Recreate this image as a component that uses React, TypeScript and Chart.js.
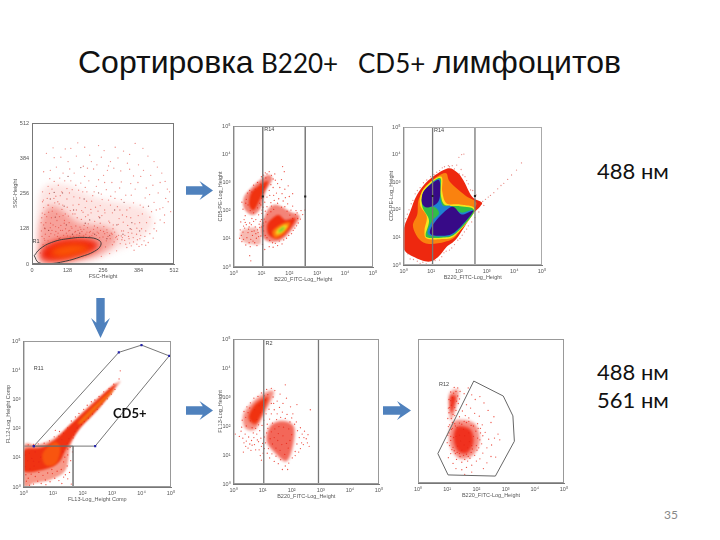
import React, { useEffect, useRef } from "react";
import { Chart, registerables } from "chart.js";

Chart.register(...registerables);

type P = [number, number];

const linearTicks = [0, 128, 256, 384, 512];
const decadeExponents = [0, 1, 2, 3, 4, 5];

// ---- Panel 1: FSC / SSC (linear channels)
const scatterSparse: P[] = [
  [52,402],[88,352],[120,418],[165,440],[208,395],[240,430],[283,372],[330,410],[372,438],[418,392],[452,352],[480,300],
  [64,310],[95,286],[130,372],[152,330],[185,355],[222,345],[258,322],[295,348],[322,298],[352,344],[392,318],[436,286],
  [38,262],[55,238],[72,272],[102,248],[118,302],[145,270],[176,294],[198,262],[232,282],[268,270],[300,262],[338,250],
  [372,272],[408,240],[440,224],[472,205],[500,190],[42,205],[60,188],[82,222],[108,198],[126,236],[148,214],[172,240],
  [192,205],[215,228],[246,212],[276,232],[308,208],[342,196],[366,222],[398,182],[425,170],[462,160],[35,168],[50,150],
  [70,168],[90,158],[112,176],[134,150],[155,182],[178,162],[202,178],[226,155],[252,176],[280,150],[314,165],[345,140],
  [378,130],[410,120],[440,128],[34,120],[48,108],[66,132],[86,118],[104,140],[124,112],[144,130],[166,122],[188,140],
  [210,118],[236,132],[262,110],[292,128],[322,102],[350,92],[380,88],[404,84],[60,60],[30,40],[265,62],[290,70],[318,74],
  [342,60],[368,50],[305,48],[280,38],[250,28],[76,422],[104,388],[136,345],[160,392],[190,318],[214,372],[250,388],
  [272,340],[310,385],[344,366],[384,360],[402,340],[428,322],[468,330],[496,262],[482,238],[58,282],[80,300],[112,330],
  [42,335],[140,302],[168,268],[205,302],[240,306],[262,296],[288,296],[316,276],[356,292],[382,296],[412,276],[455,258],
  [74,205],[98,218],[120,182],[138,194],[160,196],[184,188],[212,198],[238,192],[262,196],[290,186],[326,178],[356,168],
  [388,150],[76,142],[96,132],[116,148],[136,122],[158,138],[180,118],[200,132],[222,126],[246,148],[270,124],[298,116],
  [330,120],[360,112],[392,104],[68,110],[92,100],[114,104],[138,98],[162,106],[186,102],[208,100],[232,104],[256,98],
  [282,92],[308,90],[334,86],[44,92],[58,84],[40,70],[52,62],[268,84],[296,80],[324,88],[352,76],[378,72],
];
const scatterExtra: P[] = [
  [33,150],[37,185],[41,232],[47,128],[53,172],[57,214],[63,256],[67,148],[73,192],[79,238],[85,136],[89,182],[93,226],[99,172],[103,122],[107,262],
  [111,214],[117,158],[121,128],[127,206],[131,174],[135,258],[141,136],[147,182],[151,244],[157,118],[163,168],[169,216],[173,134],[179,194],[183,262],[187,126],
  [193,172],[197,228],[203,146],[207,114],[213,186],[219,248],[225,138],[229,206],[235,116],[241,172],[247,122],[253,234],[259,136],[263,186],[271,114],[277,156],
  [283,214],[289,108],[293,142],[299,238],[305,100],[311,144],[317,196],[323,120],[329,152],[335,104],[341,172],[347,114],[353,204],[359,126],[365,96],[371,146],
  [377,108],[383,176],[389,92],[395,128],[401,206],[407,100],[413,150],[419,78],[425,110],[431,190],[437,94],[443,148],[449,120],[461,200],[477,150],[491,226],
  [36,100],[42,142],[46,86],[62,100],[72,122],[82,106],[94,112],[102,96],[110,122],[128,102],[132,120],[150,100],[154,116],[170,104],[176,126],[194,108],[198,116],
  [216,104],[220,112],[240,112],[244,96],[258,118],[274,100],[286,112],[302,96],[312,104],[326,96],[338,72],[348,100],[358,66],[366,80],[386,64],[396,70],[410,68],
  [140,420],[190,424],[260,412],[300,424],[352,398],[400,420],[440,372],[462,296],[488,272],[200,348],[234,360],[276,356],[320,338],[366,320],[80,386],[66,340],[100,312],
  [126,274],[158,286],[192,278],[224,262],[250,254],[284,246],[322,234],[358,250],[390,214],[424,252],[448,196],[478,178],[86,246],[60,214],[46,180],[38,226],
];
const scatterDark: P[] = [
  [66,236],[110,258],[150,196],[192,148],[244,168],[306,142],[354,128],[124,142],[84,170],[172,112],[226,108],[280,104],
  [98,92],[146,108],[60,122],[208,160],[298,196],[130,318],[240,258],[332,224],[420,210],[176,350],[116,210],[80,260],
  [328,108],[270,92],[46,130],[388,120],[360,150],[188,236],
];
const haze1: P[] = [[24,0],[28,250],[110,290],[235,240],[395,205],[435,150],[390,92],[305,50],[220,15],[100,0]];
const haze2: P[] = [[28,16],[28,135],[58,205],[102,200],[170,150],[262,135],[305,104],[285,62],[222,25],[120,4],[50,2]];
const core1: P[] = [[32,22],[38,54],[70,78],[122,92],[192,92],[238,76],[230,54],[182,33],[122,16],[68,10]];
const core2: P[] = [[66,36],[88,60],[140,72],[194,66],[204,50],[152,34],[108,26]];
const gateR1: P[] = [[8,30],[28,54],[70,78],[130,92],[200,96],[242,86],[248,68],[225,46],[175,26],[120,10],[60,1],[24,5],[8,30]];

// ---- Panel 2: B220 / CD5 all events (decade exponents)
const upper2Outer: P[] = [[1.27,3.27],[1.39,3.09],[1.15,2.67],[.97,2.08],[.68,1.84],[.38,2.08],[.38,2.49],[.68,2.85],[1.03,3.15]];
const upper2Inner: P[] = [[1.15,3.03],[1.23,2.97],[.97,2.44],[.73,2.02],[.56,2.2],[.62,2.61],[.85,2.85]];
const lower2Outer: P[] = [[1.56,2.2],[2.04,1.96],[2.37,1.78],[2.04,1.25],[1.62,.91],[1.15,.95],[.97,1.31],[1.09,1.72],[1.27,2.08]];
const lower2Red: P[] = [[1.62,1.84],[1.86,1.66],[2.22,1.72],[1.98,1.31],[1.62,1.01],[1.27,1.13],[1.21,1.49],[1.39,1.72]];
const lower2Orange: P[] = [[1.86,1.58],[2.04,1.54],[1.82,1.19],[1.5,1.03],[1.39,1.25],[1.56,1.43]];
const lower2Yellow: P[] = [[1.82,1.49],[1.94,1.45],[1.74,1.22],[1.53,1.15],[1.56,1.31]];
const lower2Green: P[] = [[1.74,1.40],[1.85,1.39],[1.71,1.25],[1.6,1.25]];
const left2Haze: P[] = [[.32,1.31],[.85,1.37],[.97,.83],[.5,.83],[.26,1.01]];
const dots2: P[] = [
  [.3,2.3],[.34,2.05],[.42,1.82],[.5,2.62],[.58,2.72],[.66,1.72],[.72,2.9],[.8,1.68],[.86,3.0],[.9,1.85],[.96,1.62],[1.0,3.2],
  [1.08,3.26],[1.14,3.34],[1.2,3.3],[1.28,3.38],[1.36,3.25],[1.42,3.12],[1.34,2.92],[1.28,2.72],[1.2,2.48],[1.12,2.3],[1.06,2.12],[1.02,1.9],
  [.24,1.32],[.28,1.12],[.3,.9],[.36,1.45],[.42,1.58],[.44,.78],[.52,1.22],[.6,.72],[.64,1.5],[.7,.92],[.78,1.42],[.84,.76],[.92,1.52],[.98,1.1],[1.04,.8],[1.08,1.46],
  [.58,.4],[.62,.22],[1.12,.62],[1.28,.72],[1.42,.7],[1.58,.76],[1.74,.82],[1.9,1.02],[2.08,1.18],[2.2,1.38],[2.32,1.56],[2.48,1.86],[2.56,2.02],[2.42,2.0],
  [2.24,2.0],[2.12,2.16],[1.94,2.24],[1.78,2.34],[1.62,2.42],[1.46,2.36],[1.34,2.28],[1.2,2.14],[1.54,2.62],[1.66,2.82],[1.74,2.6],[1.58,2.96],[1.72,3.1],[1.84,2.76],
  [1.42,2.82],[1.5,3.08],[1.82,3.38],[1.76,3.56],[1.86,2.46],[2.0,2.5],[1.48,3.3],[1.96,2.88],[2.12,2.6],[1.3,2.54],[1.44,2.54],
  [1.14,1.98],[1.22,1.86],[1.08,1.28],[1.14,1.12],[2.12,1.72],[2.22,1.86],[2.3,1.72],[2.02,1.84],[1.92,1.98],[1.34,1.96],[1.44,2.04],[1.72,2.12],
  [.46,2.4],[.52,2.2],[.44,2.26],[.6,2.0],[.72,1.92],[.86,2.1],[.94,2.26],[1.0,2.44],[1.06,2.64],[1.1,2.84],[.78,2.76],[.66,2.66],[.96,2.94],[1.16,3.16],
  [.38,1.68],[.48,1.04],[.56,1.42],[.68,1.12],[.74,1.28],[.88,1.22],[.82,1.02],[.62,.98],[1.02,1.42],[1.0,1.68],[1.06,1.56],[1.02,2.02],[.98,2.2],
  [.26,1.6],[.34,1.24],[.4,1.38],[.46,1.5],[.54,1.34],[.58,1.56],[.66,1.26],[.72,1.62],[.8,1.18],[.86,1.32],[.9,1.08],[.94,1.4],[.76,.86],[.56,.86],[.36,.98],[.22,1.02],
  [1.1,1.7],[1.16,1.6],[1.2,1.04],[1.3,.94],[1.4,.86],[1.5,.84],[1.64,.92],[1.8,.96],[1.98,1.12],[2.14,1.3],[2.26,1.46],[2.4,1.7],[2.28,1.92],[2.06,2.02],[1.84,2.14],[1.58,2.26],[1.36,2.16],
];

// ---- Panel 3: same gate, dense contour view
const contourRed: P[] = [[0,1.27],[.24,1.93],[.48,2.53],[.9,3.07],[1.56,3.49],[1.92,3.37],[2.16,3.07],[2.48,2.47],[2.82,2.27],[2.76,2.11],[2.48,1.81],[1.92,.96],[1.56,.66],[1.26,.3],[.9,.12],[.36,.3],[0,.6]];
const contourOrange: P[] = [[.34,1.42],[.5,1.85],[.56,2.41],[.94,2.98],[1.5,3.33],[1.68,3.01],[2.22,2.53],[2.62,2.27],[2.48,1.92],[1.92,1.08],[1.5,.84],[.92,.76],[.56,.94]];
const contourYellow: P[] = [[.76,1.27],[.84,1.75],[.6,2.17],[.66,2.65],[1.02,3.04],[1.38,3.19],[1.4,2.65],[1.56,2.23],[2.04,2.19],[2.58,1.99],[1.88,1.08],[1.38,.94],[.84,.96]];
const contourGreen: P[] = [[.8,1.11],[.92,1.63],[.68,2.11],[.71,2.59],[1.02,2.98],[1.34,3.13],[1.34,2.59],[1.5,2.17],[2.04,2.13],[2.55,1.95],[1.86,1.12],[1.38,.99],[.9,.99]];
const contourCyan: P[] = [[.88,1.12],[1.04,1.6],[1.28,1.86],[1.12,2.1],[.72,2.14],[.7,2.58],[1.02,2.96],[1.31,3.1],[1.31,2.56],[1.42,2.16],[1.7,2.14],[2.08,1.9],[2.5,1.95],[1.86,1.16],[1.38,1.03]];
const navyUpper: P[] = [[1.29,3.07],[1.32,2.53],[1.2,2.23],[.84,2.08],[.66,2.27],[.72,2.65],[1.02,2.95]];
const navyLower: P[] = [[.96,1.14],[1.14,1.57],[1.74,2.11],[2.1,1.83],[2.52,1.95],[1.86,1.2],[1.38,1.06]];
const dots3: P[] = [
  [2.86,2.3],[2.96,2.38],[3.06,2.46],[3.14,2.52],[3.26,2.62],[3.4,2.76],[3.52,2.88],[3.62,2.96],[3.76,3.1],[3.9,3.26],[4.26,3.7],[4.08,3.44],
  [2.0,3.9],[2.1,4.0],[2.18,4.02],[1.76,3.6],[1.92,3.62],[2.08,3.46],[2.22,3.2],[2.34,2.94],[2.5,2.7],[2.62,2.54],[1.66,3.56],[1.48,3.56],[1.3,3.42],[1.1,3.28],
  [.84,3.08],[.6,2.8],[.42,2.58],[.28,2.22],[.14,1.84],[.06,1.52],[1.04,.06],[.7,.1],[.5,.14],[.24,.22],[1.3,.18],[1.46,.44],[1.66,.54],[1.84,.74],[2.04,.96],[2.2,1.2],
  [2.34,1.42],[2.58,1.72],[2.72,1.92],[2.9,2.16],[.72,2.98],[.5,2.7],[.34,2.34],[.2,2.0],[.08,1.68],[.98,3.2],[1.2,3.36],[1.4,3.52],[1.62,3.6],[1.84,3.48],[2.02,3.3],[2.14,3.26],
  [2.28,3.06],[2.42,2.72],[.16,.4],[.36,.2],[.6,.06],[.82,.04],[1.14,.16],[1.38,.3],[1.54,.5],[1.74,.62],[1.96,.9],[2.12,1.08],[2.28,1.3],[2.46,1.56],
];

// ---- Panel 4: FL13 / FL12 diagonal
const diag4Outer: P[] = [[0,1.4],[.47,1.44],[1.04,1.67],[1.66,2.18],[2.27,2.81],[3.18,3.57],[3.2,3.49],[2.61,2.81],[1.94,2.07],[1.6,1.44],[1.43,.59],[.92,.25],[.36,.14],[0,.08]];
const diag4Red: P[] = [[0,1.25],[.6,1.35],[1.05,1.6],[1.6,2.15],[2.25,2.75],[3.15,3.55],[2.6,2.75],[1.9,2.0],[1.45,1.3],[1.2,.85],[.7,.6],[0,.55]];
const diag4Streak: P[] = [[1.85,2.2],[2.3,2.68],[2.95,3.28],[3.0,3.24],[2.4,2.6],[2.0,2.2]];
const diag4Core: P[] = [[.65,1.15],[1.05,1.55],[1.25,1.3],[1.1,.8],[.75,.75]];
const dots4: P[] = [
  [.1,.2],[.2,.06],[.34,.1],[.48,.2],[.6,.12],[.74,.24],[.9,.18],[1.06,.3],[1.2,.22],[1.36,.34],[1.5,.28],[1.62,.1],[1.56,.5],[1.48,.72],[1.6,.9],[1.5,1.1],[1.66,1.2],[1.58,1.36],
  [.08,.42],[.16,.3],[.26,.44],[.4,.36],[.52,.5],[.66,.4],[.82,.48],[.98,.46],[1.14,.54],[1.28,.6],[1.36,.86],[1.4,1.02],[1.34,1.2],[1.5,1.3],[1.48,1.5],[1.68,1.68],
  [1.54,1.66],[1.3,1.62],[1.2,1.74],[1.04,1.72],[.88,1.58],[.7,1.5],[.5,1.48],[.34,1.46],[.16,1.44],[1.36,1.84],[1.22,1.9],[1.5,2.02],[1.62,2.26],[1.76,2.4],[1.88,2.52],[2.04,2.66],
  [2.16,2.8],[2.3,2.92],[2.42,2.98],[2.56,3.1],[2.72,3.26],[2.9,3.38],[3.06,3.52],[3.24,3.7],[3.28,3.98],[2.06,2.24],[2.2,2.36],[2.34,2.5],[2.5,2.66],[2.66,2.84],[2.84,3.02],[2.98,3.18],[3.1,3.34],
  [.06,.7],[.22,.62],[.36,.72],[.14,.9],[.28,.98],[.06,1.1],[.2,1.16],[.4,1.2],[.52,.86],[.58,1.02],[.34,.88],[1.74,1.9],[1.82,2.02],[1.7,1.78],[1.96,2.14],[1.08,1.94],[.96,.6],[1.42,.42],[1.3,.12],[.76,.08],
];

// ---- Panel 5: gated on FL13 x B220
const upper5Outer: P[] = [[1.37,3.21],[1.31,2.92],[1.03,2.4],[.74,1.88],[.4,1.94],[.34,2.4],[.69,2.86],[1.08,3.15]];
const upper5Inner: P[] = [[1.2,2.98],[.97,2.4],[.74,2.06],[.51,2.29],[.69,2.69],[.97,2.92]];
const lower5Outer: P[] = [[1.26,2.0],[1.66,2.17],[2.06,2.0],[2.06,1.42],[1.83,.79],[1.43,1.07],[1.14,1.48]];
const dots5: P[] = [
  [.3,2.2],[.36,2.5],[.28,1.96],[.4,1.72],[.52,1.62],[.62,1.5],[.46,2.66],[.58,2.8],[.7,2.96],[.84,3.02],[.96,3.14],[1.14,3.26],[1.3,3.3],[1.42,3.22],[1.36,3.0],[1.3,2.78],[1.22,2.58],[1.12,2.42],
  [1.04,2.2],[.98,2.02],[.9,1.84],[.8,1.72],[.68,1.76],[.2,1.64],[.36,1.42],[.5,1.24],[.64,1.34],[.76,1.18],[.86,1.46],[.96,1.3],[1.02,1.06],[.92,.98],[.34,1.1],[.06,1.72],
  [1.18,1.92],[1.34,2.1],[1.48,2.22],[1.62,2.3],[1.78,2.26],[1.94,2.14],[2.1,2.06],[2.2,1.84],[2.26,1.6],[2.18,1.38],[2.3,1.22],[2.12,1.12],[2.02,.9],[1.9,.72],[1.78,.62],[1.62,.84],[1.46,.96],[1.32,1.04],[1.2,1.22],[1.1,1.42],
  [1.06,1.62],[1.14,1.76],[2.42,1.6],[2.56,1.7],[2.54,1.42],[2.4,1.36],[1.4,2.56],[1.58,2.64],[1.5,2.86],[1.7,2.78],[1.82,2.96],[1.96,2.66],[1.78,3.42],[2.18,2.74],[2.64,2.56],[1.38,2.78],[2.04,2.42],[1.6,3.1],
  [1.3,1.8],[1.42,1.9],[1.56,1.98],[1.72,1.96],[1.9,1.9],[2.0,1.7],[1.94,1.5],[1.88,1.24],[1.76,1.02],[1.6,1.16],[1.46,1.24],[1.34,1.38],[1.26,1.56],[1.4,1.6],[1.54,1.74],[1.7,1.66],[1.82,1.4],[1.66,1.36],[1.52,1.5],
  [.44,2.0],[.5,2.46],[.58,2.18],[.64,1.94],[.72,2.56],[.8,2.22],[.88,2.7],[.92,2.46],[1.0,2.72],[1.1,2.9],[1.18,3.08],[1.06,3.04],[.86,2.04],[.76,1.92],[.56,2.62],[.42,2.3],
  [.26,1.82],[.32,1.58],[.44,1.48],[.56,1.38],[.7,1.6],[.82,1.52],[.94,1.58],[1.0,1.4],[.88,1.18],[.72,1.36],[.6,1.16],[.42,1.3],[.96,.82],[1.06,1.22],[1.16,1.06],[1.24,.9],[1.4,.78],[1.54,.7],[1.68,.5],[1.86,.5],
  [2.12,.98],[2.24,1.1],[2.34,1.42],[2.36,1.72],[2.3,1.94],[2.16,2.14],[2.44,1.82],[2.5,1.56],[2.6,1.3],[1.16,2.06],[1.24,2.24],[1.3,2.42],[1.5,2.42],[1.68,2.48],[1.84,2.4],[2.0,2.28],
];

// ---- Panel 6: R12 gate
const strip6: P[] = [[1.08,3.11],[1.39,3.22],[1.31,2.65],[1.14,2.18],[1.08,2.4]];
const strip6Inner: P[] = [[1.1,3.0],[1.3,3.0],[1.24,2.68],[1.13,2.42]];
const lower6Outer: P[] = [[1.31,2.18],[1.94,2.06],[2.11,1.48],[1.88,.96],[1.43,.85],[1.11,1.25],[1.08,1.83]];
const lower6Inner: P[] = [[1.4,1.98],[1.8,1.86],[1.9,1.42],[1.7,1.05],[1.4,1.08],[1.24,1.4],[1.24,1.76]];
const dots6: P[] = [
  [1.24,3.32],[1.36,3.3],[1.44,3.18],[1.42,2.92],[1.38,2.76],[1.3,2.52],[1.26,2.34],[1.18,2.1],[1.06,2.9],[1.04,2.6],[1.02,2.24],[1.08,2.02],
  [1.58,3.1],[1.72,3.3],[1.84,3.06],[1.96,2.9],[2.12,3.0],[2.26,2.78],[1.66,2.72],[1.8,2.6],[1.52,2.5],[1.94,2.42],[2.1,2.32],[1.62,2.34],[1.74,2.26],[1.42,2.3],
  [2.2,2.02],[2.3,1.76],[2.42,1.52],[2.52,1.32],[2.62,1.56],[2.36,1.22],[2.22,1.04],[2.12,.84],[2.0,.76],[1.84,.62],[1.66,.54],[1.5,.46],[1.3,.5],[1.2,.68],[1.04,.88],[1.12,1.02],
  [1.5,.72],[1.32,.82],[1.7,.76],[1.0,1.4],[1.02,1.66],[1.04,1.96],[1.18,1.9],[1.26,2.06],[2.04,2.06],[2.14,1.9],[2.22,1.64],[2.18,1.36],[2.02,1.14],[1.94,.96],[1.78,.86],[1.6,.82],
  [1.44,.92],[1.28,1.02],[1.16,1.16],[1.08,1.3],[1.12,1.48],[1.06,1.74],[1.22,1.58],[1.34,1.92],[1.5,2.04],[1.66,2.1],[1.82,2.0],[1.98,1.8],[2.04,1.56],[2.0,1.3],[1.86,1.18],[1.66,1.0],
  [1.5,1.14],[1.36,1.28],[1.46,1.46],[1.6,1.64],[1.74,1.74],[1.9,1.62],[1.76,1.44],[1.58,1.32],[1.42,1.66],[1.56,1.86],[1.3,1.62],[1.84,1.3],[1.7,1.22],[1.14,2.7],[1.18,2.96],[1.12,3.16],
  [2.36,.7],[2.5,.92],[1.6,.3],[1.84,.38],[2.24,.5],[2.66,.9],[2.8,1.5],[2.74,1.7],[2.5,2.1],[2.4,2.52],[2.6,2.3],
  [1.12,1.62],[1.14,1.86],[1.2,1.24],[1.24,1.12],[1.34,1.06],[1.42,1.02],[1.56,.96],[1.72,.92],[1.82,1.06],[2.08,1.22],[2.12,1.5],[2.14,1.74],[2.06,1.9],[1.9,1.98],[1.74,2.14],[1.58,2.14],[1.42,2.08],[1.28,1.98],
  [1.08,2.62],[1.06,2.44],[1.12,2.86],[1.22,3.12],[1.3,3.18],[1.36,3.02],[1.32,2.84],[1.26,2.62],[1.2,2.38],[1.14,2.24],
];

const gate2: P[] = [[1.05,5],[2.57,5],[2.57,0],[1.05,0],[1.05,5]];
const handles2: P[] = [[1.05,5],[1.82,5],[2.57,5],[1.05,2.5],[2.57,2.5],[1.05,0],[1.82,0],[2.57,0]];
const gate3: P[] = [[1.05,5],[2.58,5],[2.58,0],[1.05,0],[1.05,5]];
const handles3: P[] = [[1.05,5],[1.82,5],[2.58,5],[1.05,2.5],[2.58,2.5],[1.05,0],[1.82,0],[2.58,0]];
const gateR11: P[] = [[.35,1.4],[3.23,4.61],[4.0,4.86],[4.94,4.49],[2.43,1.4],[.35,1.4]];
const gateLowerLeft: P[] = [[0,1.4],[1.68,1.4],[1.68,0],[0,0]];
const gate5: P[] = [[1.04,5],[2.92,5],[2.92,0],[1.04,0],[1.04,5]];
const gate5Base: P[] = [[1.04,0],[2.92,0]];
const gateR12: P[] = [[1.91,3.54],[2.92,3.02],[3.25,2.33],[3.3,1.45],[2.65,.24],[1.03,.28],[.68,1.02],[1.91,3.54]];

type Region = { pts: P[]; color: string };
type Line = { pts: P[]; color: string; width: number; tension?: number };
type DotSet = { pts: P[]; color: string };
type Panel = {
  left: number; top: number; right: number; bottom: number; marginLeft: number; soften: number;
  log: boolean; xTitle: string; yTitle: string; yLabels?: boolean;
  regions: Region[]; dots: DotSet[]; lines: Line[];
  handles?: { pts: P[]; color: string };
  labels: { text: string; at: P }[];
  frame: string;
};

const RED = "rgba(232,38,22,.8)";
const panels: Panel[] = [
  {
    left: 32, top: 123, right: 174, bottom: 264, marginLeft: 20, soften: 3, log: false, xTitle: "FSC-Height", yTitle: "SSC-Height", frame: "#777",
    regions: [
      { pts: haze1, color: "rgba(245,120,110,.2)" },
      { pts: haze2, color: "rgba(238,70,55,.42)" },
      { pts: core1, color: "rgb(240,35,12)" },
      { pts: core2, color: "rgb(250,85,5)" },
    ],
    dots: [{ pts: scatterSparse, color: "rgba(225,60,50,.6)" }, { pts: scatterExtra, color: "rgba(230,70,60,.65)" }, { pts: scatterDark, color: "rgba(130,40,40,.7)" }],
    lines: [{ pts: gateR1, color: "#333", width: 0.9, tension: 0.45 }],
    labels: [{ text: "R1", at: [2, 80] }],
  },
  {
    left: 233, top: 126, right: 373, bottom: 267, marginLeft: 16.5, soften: 1.2, log: true, xTitle: "B220_FITC-Log_Height", yTitle: "CD5-PE-Log_Height", frame: "#999",
    regions: [
      { pts: left2Haze, color: "rgba(235,70,50,.38)" },
      { pts: upper2Outer, color: "rgba(235,50,30,.6)" },
      { pts: upper2Inner, color: "rgb(240,50,15)" },
      { pts: lower2Outer, color: "rgba(235,50,30,.6)" },
      { pts: lower2Red, color: "rgb(240,45,15)" },
      { pts: lower2Orange, color: "rgb(252,120,15)" },
      { pts: lower2Yellow, color: "rgb(250,215,30)" },
      { pts: lower2Green, color: "rgb(120,210,50)" },
    ],
    dots: [{ pts: dots2, color: RED }],
    lines: [{ pts: gate2, color: "#666", width: 1.3 }],
    handles: { pts: handles2, color: "#222" },
    labels: [{ text: "R14", at: [1.1, 4.86] }],
  },
  {
    left: 403, top: 127, right: 542, bottom: 265, marginLeft: 15.5, soften: 0.6, log: true, xTitle: "B220_FITC-Log_Height", yTitle: "CD5-PE-Log_Height", frame: "#aaa",
    regions: [
      { pts: contourRed, color: "rgb(238,40,15)" },
      { pts: contourOrange, color: "rgb(250,130,15)" },
      { pts: contourYellow, color: "rgb(245,230,30)" },
      { pts: contourGreen, color: "rgb(50,190,70)" },
      { pts: contourCyan, color: "rgb(30,130,210)" },
      { pts: navyUpper, color: "rgb(55,10,135)" },
      { pts: navyLower, color: "rgb(55,10,135)" },
    ],
    dots: [{ pts: dots3, color: "rgba(215,60,50,.6)" }],
    lines: [{ pts: gate3, color: "#777", width: 1.3 }],
    handles: { pts: handles3, color: "#222" },
    labels: [{ text: "R14", at: [1.1, 4.86] }],
  },
  {
    left: 23, top: 341, right: 171, bottom: 487, marginLeft: 18.5, soften: 1, log: true, xTitle: "FL13-Log_Height Comp", yTitle: "FL12-Log_Height Comp", frame: "#999",
    regions: [
      { pts: diag4Outer, color: "rgba(240,70,40,.55)" },
      { pts: diag4Red, color: "rgb(240,50,18)" },
      { pts: diag4Streak, color: "rgb(245,110,15)" },
      { pts: diag4Core, color: "rgb(248,85,15)" },
    ],
    dots: [{ pts: dots4, color: RED }],
    lines: [
      { pts: gateR11, color: "#666", width: 0.9 },
      { pts: gateLowerLeft, color: "#777", width: 0.8 },
    ],
    handles: { pts: gateR11, color: "#2222aa" },
    labels: [{ text: "R11", at: [.35, 4.05] }],
  },
  {
    left: 233, top: 339, right: 379, bottom: 484, marginLeft: 16.5, soften: 1.5, log: true, xTitle: "B220_FITC-Log_Height", yTitle: "FL13-Log_Height", frame: "#999",
    regions: [
      { pts: upper5Outer, color: "rgba(238,50,25,.55)" },
      { pts: upper5Inner, color: "rgb(240,50,15)" },
      { pts: lower5Outer, color: "rgba(238,45,25,.72)" },
    ],
    dots: [{ pts: dots5, color: RED }],
    lines: [{ pts: gate5Base, color: "#333", width: 1.3 }, { pts: gate5, color: "#777", width: 1.3 }],
    labels: [{ text: "R2", at: [1.1, 4.86] }],
  },
  {
    left: 418, top: 339, right: 564, bottom: 483, marginLeft: 8, soften: 1.5, log: true, xTitle: "B220_FITC-Log_Height", yTitle: "", yLabels: false, frame: "#999",
    regions: [
      { pts: strip6, color: "rgba(240,70,50,.55)" },
      { pts: strip6Inner, color: "rgb(240,50,30)" },
      { pts: lower6Outer, color: "rgba(238,50,30,.55)" },
      { pts: lower6Inner, color: "rgba(240,40,20,.9)" },
    ],
    dots: [{ pts: dots6, color: RED }],
    lines: [{ pts: gateR12, color: "#666", width: 1 }],
    labels: [{ text: "R12", at: [.72, 3.42] }],
  },
];

const MARGIN_BOTTOM = 16;
const MARGIN_PAD = 6;

const panelPlugin = {
  id: "panelExtras",
  beforeDatasetsDraw(chart: any, _args: any, opts: any) {
    const { ctx, chartArea: a, scales } = chart;
    ctx.save();
    ctx.beginPath();
    ctx.rect(a.left, a.top, a.width, a.height);
    ctx.clip();
    ctx.filter = `blur(${opts.soften}px)`;
    chart.data.datasets.forEach((d: any) => {
      if (!d.regionColor) return;
      const px = d.data.map((p: any) => [scales.x.getPixelForValue(p.x), scales.y.getPixelForValue(p.y)]);
      const n = px.length;
      // closed Catmull-Rom curve through the traced outline
      ctx.beginPath();
      ctx.moveTo(px[0][0], px[0][1]);
      for (let i = 0; i < n; i++) {
        const p0 = px[(i - 1 + n) % n], p1 = px[i], p2 = px[(i + 1) % n], p3 = px[(i + 2) % n];
        ctx.bezierCurveTo(
          p1[0] + (p2[0] - p0[0]) / 6, p1[1] + (p2[1] - p0[1]) / 6,
          p2[0] - (p3[0] - p1[0]) / 6, p2[1] - (p3[1] - p1[1]) / 6,
          p2[0], p2[1],
        );
      }
      ctx.closePath();
      ctx.fillStyle = d.regionColor;
      ctx.fill();
    });
    ctx.restore();
  },
  afterDatasetsDraw(chart: any, _args: any, opts: any) {
    const { ctx, chartArea: a, scales } = chart;
    ctx.save();
    ctx.strokeStyle = opts.frame;
    ctx.lineWidth = 1;
    ctx.strokeRect(a.left + 0.5, a.top + 0.5, a.width - 1, a.height - 1);
    ctx.fillStyle = "#444";
    ctx.font = "5.5px 'Liberation Sans'";
    ctx.textBaseline = "middle";
    (opts.labels || []).forEach((l: any) => {
      ctx.fillText(l.text, scales.x.getPixelForValue(l.x), scales.y.getPixelForValue(l.y));
    });
    ctx.restore();
  },
};

function PanelChart({ panel }: { panel: Panel }) {
  const ref = useRef<HTMLCanvasElement>(null);
  useEffect(() => {
    const conv = ([x, y]: P) => (panel.log ? { x: 10 ** x, y: 10 ** y } : { x, y });
    const superscripts = ["\u2070", "\u00b9", "\u00b2", "\u00b3", "\u2074", "\u2075"];
    const tickValues = panel.log ? decadeExponents.map((e) => 10 ** e) : linearTicks;
    const label = (v: number) => (panel.log ? "10" + superscripts[Math.round(Math.log10(v))] : String(v));
    const axis = (title: string, show: boolean, fit: (s: any) => void) => ({
      type: panel.log ? "logarithmic" : "linear",
      min: panel.log ? 1 : 0,
      max: panel.log ? 100000 : 512,
      grid: { display: false, drawTicks: true, tickLength: 2, color: "#777" },
      border: { color: "#777" },
      afterBuildTicks: (s: any) => { s.ticks = tickValues.map((value) => ({ value })); },
      afterFit: fit,
      ticks: {
        autoSkip: false, maxRotation: 0, padding: 1, color: "#555",
        font: { size: 5.5, family: "'Liberation Sans'" },
        callback: (v: any) => (show ? label(Number(v)) : ""),
      },
      title: {
        display: !!title, text: title, color: "#555", padding: 0,
        font: { size: 5.5, family: "'Liberation Sans'" },
      },
    });
    const datasets: any[] = [
      ...(panel.handles ? [{ data: panel.handles.pts.map(conv), pointStyle: "rect", pointRadius: 1.5, backgroundColor: panel.handles.color, borderWidth: 0 }] : []),
      ...panel.lines.map((l) => ({
        data: l.pts.map(conv), showLine: true, pointRadius: 0, borderColor: l.color, borderWidth: l.width, tension: l.tension || 0,
      })),
      ...panel.dots.map((d) => ({
        data: d.pts.map(conv), pointRadius: 0.65, borderWidth: 0, backgroundColor: d.color,
      })),
      ...panel.regions.map((r) => ({
        data: r.pts.map(conv), regionColor: r.color, pointRadius: 0, showLine: false,
      })),
    ];
    const chart = new Chart(ref.current!, {
      type: "scatter",
      data: { datasets },
      plugins: [panelPlugin],
      options: {
        animation: false, responsive: false,
        layout: { padding: { top: MARGIN_PAD, right: MARGIN_PAD, left: 0, bottom: 0 } },
        scales: {
          x: axis(panel.xTitle, true, (s: any) => { s.height = MARGIN_BOTTOM; }),
          y: axis(panel.yTitle, panel.yLabels !== false, (s: any) => { s.width = panel.marginLeft; }),
        },
        plugins: {
          legend: { display: false }, tooltip: { enabled: false },
          panelExtras: {
            frame: panel.frame,
            soften: panel.soften,
            labels: panel.labels.map((l) => ({ text: l.text, ...conv(l.at) })),
          },
        },
      },
    } as any);
    return () => chart.destroy();
  }, [panel]);
  return (
    <canvas
      ref={ref}
      width={panel.right - panel.left + panel.marginLeft + MARGIN_PAD}
      height={panel.bottom - panel.top + MARGIN_BOTTOM + MARGIN_PAD}
      style={{
        position: "absolute",
        left: panel.left - panel.marginLeft,
        top: panel.top - MARGIN_PAD,
        filter: "blur(0.35px)",
      }}
    />
  );
}

const calibri = "Lato, 'Open Sans', sans-serif";
const arial = "'Liberation Sans', Arial, sans-serif";
const textBase: React.CSSProperties = { position: "absolute", whiteSpace: "pre", color: "#111" };
const titleWord = (width: number): React.CSSProperties => ({ display: "inline-block", width });

function Arrow({ x, y, w, h, down }: { x: number; y: number; w: number; h: number; down?: boolean }) {
  const pts = down ? "30,0 70,0 70,62 95,50 50,100 5,50 30,62" : "0,30 62,30 50,5 100,50 50,95 62,70 0,70";
  return (
    <svg style={{ position: "absolute", left: x, top: y }} width={w} height={h} viewBox="0 0 100 100" preserveAspectRatio="none">
      <polygon points={pts} fill="#4f81bd" />
    </svg>
  );
}

export default function App() {
  return (
    <div style={{ position: "absolute", left: 0, top: 0, width: 720, height: 540, overflow: "hidden", background: "#fff" }}>
      <div style={{ ...textBase, left: 78, top: 44, fontFamily: arial, fontSize: 32 }}>
        <span style={titleWord(183)}>Сортировка</span>
        <span style={{ ...titleWord(97), fontFamily: calibri, fontSize: 26 }}>B220+</span>
        <span style={{ ...titleWord(75), fontFamily: calibri, fontSize: 26 }}>CD5+</span>
        <span>лимфоцитов</span>
      </div>
      {panels.map((p, i) => <PanelChart key={i} panel={p} />)}
      <div style={{ ...textBase, left: 113, top: 405, fontFamily: calibri, fontWeight: 700, fontSize: 13 }}>CD5+</div>
      <div style={{ ...textBase, left: 597, top: 157, fontFamily: calibri, fontSize: 22 }}>488 нм</div>
      <div style={{ ...textBase, left: 597, top: 358, fontFamily: calibri, fontSize: 22 }}>488 нм</div>
      <div style={{ ...textBase, left: 597, top: 386, fontFamily: calibri, fontSize: 22 }}>561 нм</div>
      <div style={{ ...textBase, left: 664, top: 507, fontFamily: calibri, fontSize: 12, color: "#888" }}>35</div>
      <Arrow x={186} y={180} w={27} h={21} />
      <Arrow x={90} y={298} w={21} h={40} down />
      <Arrow x={186} y={400} w={27} h={21} />
      <Arrow x={383} y={400} w={28} h={21} />
    </div>
  );
}
